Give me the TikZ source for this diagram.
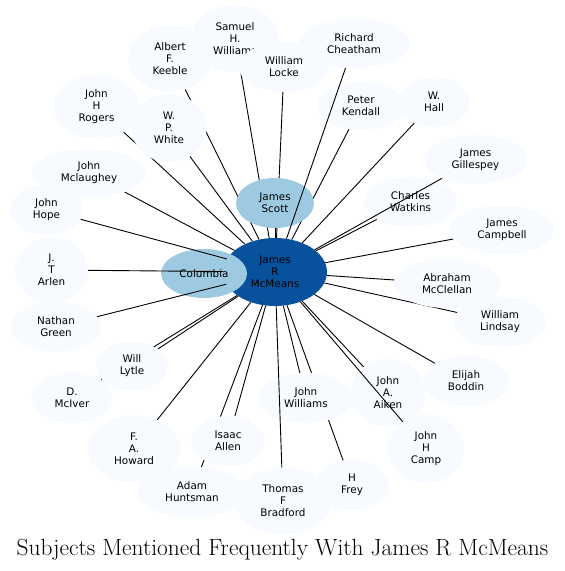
\documentclass[tikz,border=0pt]{standalone}
\usepackage{fontspec}
\newfontfamily\nodefont{DejaVu Sans}
\usetikzlibrary{shapes.geometric}
\pgfdeclarelayer{bg}
\pgfdeclarelayer{fg}
\pgfsetlayers{bg,main,fg}
\definecolor{leaffill}{HTML}{F7FBFF}
\definecolor{midfill}{HTML}{9ECAE1}
\definecolor{hubfill}{HTML}{08519C}
\tikzset{
  base/.style={ellipse, inner sep=0pt, align=center, font=\nodefont\fontsize{10.4}{12}\selectfont},
  leaf/.style={base, fill=leaffill},
  mid/.style={base, fill=midfill},
  hub/.style={base, fill=hubfill},
  sz/.style 2 args={minimum width=#1pt, minimum height=#2pt},
  link/.style={draw=black, line width=0.9pt},
  titletext/.style={anchor=base, inner sep=0pt, font=\fontsize{23.4}{27}\selectfont}
}
\begin{document}
\begin{tikzpicture}[x=1pt,y=-1pt]
\useasboundingbox (0,0) rectangle (565,571);
\node[hub, sz={104}{68}] (c) at (275,272) {James\\R\\McMeans};
\node[mid, sz={86}{49}] (col) at (204,273.5) {Columbia};
\node[mid, sz={78}{50}] (scott) at (275,203) {James\\Scott};
\node[leaf, sz={88}{67}] (samuel) at (235,38.5) {Samuel\\H.\\Williams};
\node[leaf, sz={90}{50}] (locke) at (284,67) {William\\Locke};
\node[leaf, sz={84}{66}] (keeble) at (170,58.5) {Albert\\F.\\Keeble};
\node[leaf, sz={86}{64}] (rogers) at (96.5,107) {John\\H\\Rogers};
\node[leaf, sz={75}{68}] (white) at (169,128) {W.\\P.\\White};
\node[leaf, sz={112}{49}] (cheatham) at (354,43.5) {Richard\\Cheatham};
\node[leaf, sz={88}{48}] (kendall) at (361,106) {Peter\\Kendall};
\node[leaf, sz={71}{50}] (hall) at (434,102) {W.\\Hall};
\node[leaf, sz={103}{49}] (gillespey) at (475.5,159.5) {James\\Gillespey};
\node[leaf, sz={93}{50}] (watkins) at (410.5,202) {Charles\\Watkins};
\node[leaf, sz={104}{49}] (campbell) at (502,230) {James\\Campbell};
\node[leaf, sz={106}{49}] (mcclellan) at (447,283.5) {Abraham\\McClellan};
\node[leaf, sz={92}{50}] (lindsay) at (500,322) {William\\Lindsay};
\node[leaf, sz={86}{50}] (boddin) at (466,381) {Elijah\\Boddin};
\node[leaf, sz={75}{68}] (aiken) at (388,393) {John\\A.\\Aiken};
\node[leaf, sz={76}{68}] (camp) at (426,449) {John\\H\\Camp};
\node[leaf, sz={74}{50}] (frey) at (352,485) {H\\Frey};
\node[leaf, sz={94}{50}] (jwilliams) at (306,398) {John\\Williams};
\node[leaf, sz={110}{50}] (huntsman) at (192,492) {Adam\\Huntsman};
\node[leaf, sz={96}{67}] (bradford) at (283,501) {Thomas\\F\\Bradford};
\node[leaf, sz={73}{50}] (allen) at (228,441) {Isaac\\Allen};
\node[leaf, sz={92}{67}] (howard) at (134,449) {F.\\A.\\Howard};
\node[leaf, sz={81}{51}] (mciver) at (72,397.5) {D.\\McIver};
\node[leaf, sz={72}{48}] (lytle) at (132,366) {Will\\Lytle};
\node[leaf, sz={90}{50}] (green) at (56,327) {Nathan\\Green};
\node[leaf, sz={73}{66}] (arlen) at (51.5,270) {J.\\T\\Arlen};
\node[leaf, sz={73}{50}] (hope) at (46.5,210) {John\\Hope};
\node[leaf, sz={114}{48}] (mclaughey) at (89,173) {John\\Mclaughey};
\node[titletext] (title) at (282.5,555) {Subjects Mentioned Frequently With James R McMeans};
\begin{pgfonlayer}{bg}
\foreach \n in {col,scott,samuel,locke,keeble,rogers,white,kendall,hall,watkins,campbell,mcclellan,lindsay,boddin,aiken,frey,jwilliams,huntsman,allen,howard,mciver,lytle,mclaughey}
  \draw[link] (c) -- (\n);
\end{pgfonlayer}
\begin{pgfonlayer}{fg}
\foreach \n in {arlen,hope,green,gillespey,camp,cheatham,bradford}
  \draw[link] (c) -- (\n);
\end{pgfonlayer}
\end{tikzpicture}
\end{document}
